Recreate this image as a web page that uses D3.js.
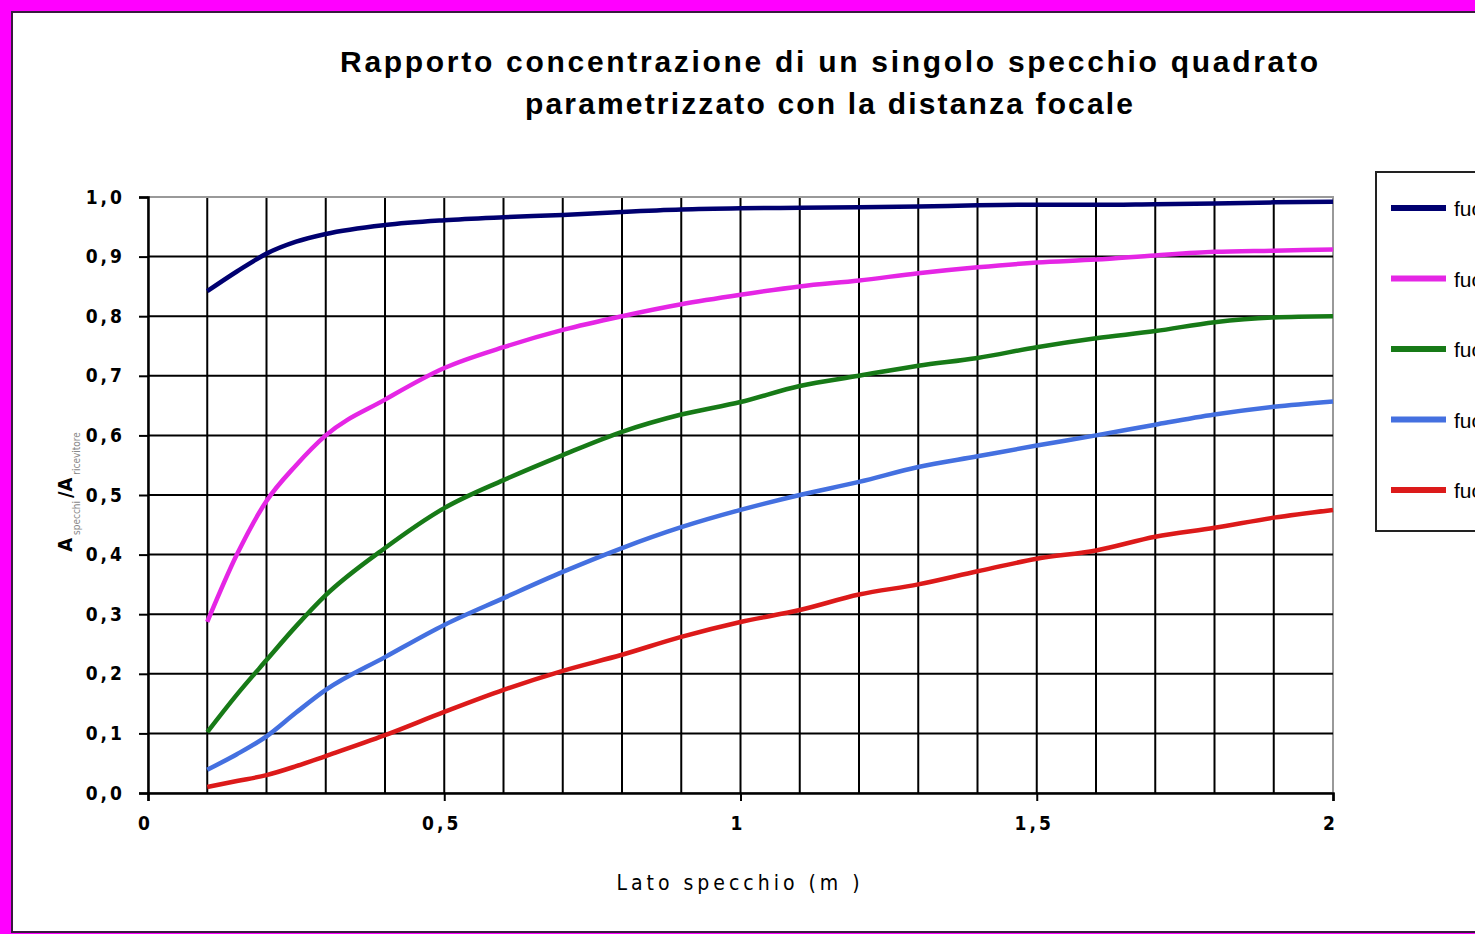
<!DOCTYPE html>
<html>
<head>
<meta charset="utf-8">
<script src="https://cdn.jsdelivr.net/npm/d3@7"></script>
<style>
  body { margin: 0; background: #ff00ff; overflow: hidden; }
  svg { display: block; }
</style>
</head>
<body>
<svg id="chart" width="1475" height="934"></svg>
<script>
// data
var lato = [0.1, 0.15, 0.2, 0.25, 0.3, 0.4, 0.5, 0.6, 0.7, 0.8, 0.9, 1.0,
            1.1, 1.2, 1.3, 1.4, 1.5, 1.6, 1.7, 1.8, 1.9, 2.0];
var serie1 = [0.842, 0.875, 0.905, 0.925, 0.938, 0.953, 0.961, 0.966, 0.970, 0.975, 0.979, 0.981,
              0.982, 0.983, 0.984, 0.986, 0.987, 0.987, 0.988, 0.989, 0.991, 0.992];
var serie2 = [0.287, 0.40, 0.49, 0.55, 0.60, 0.66, 0.713, 0.748, 0.777, 0.80, 0.82, 0.836,
              0.85, 0.86, 0.872, 0.882, 0.89, 0.895, 0.902, 0.908, 0.91, 0.912];
var serie3 = [0.102, 0.165, 0.223, 0.28, 0.332, 0.411, 0.478, 0.525, 0.567, 0.606, 0.635, 0.656,
              0.683, 0.70, 0.717, 0.73, 0.748, 0.763, 0.775, 0.79, 0.798, 0.80];
var serie4 = [0.039, 0.065, 0.095, 0.135, 0.173, 0.228, 0.282, 0.327, 0.371, 0.411, 0.446, 0.475,
              0.50, 0.522, 0.547, 0.565, 0.583, 0.60, 0.618, 0.635, 0.648, 0.657];
var serie5 = [0.01, 0.02, 0.03, 0.045, 0.062, 0.097, 0.136, 0.173, 0.205, 0.232, 0.262, 0.287,
              0.307, 0.333, 0.35, 0.372, 0.393, 0.407, 0.43, 0.445, 0.462, 0.475];
var nomi = ["fuoco 5 m", "fuoco 1 m", "fuoco 0,5 m", "fuoco 0,3 m", "fuoco 0,2 m"];
var colori = ["#000070", "#e526e5", "#177a17", "#4470e0", "#dc1a1a"];
var yTicks = [0, 0.1, 0.2, 0.3, 0.4, 0.5, 0.6, 0.7, 0.8, 0.9, 1.0];
var xTicks = [0, 0.5, 1, 1.5, 2];

var serie = [serie1, serie2, serie3, serie4, serie5];

var svg = d3.select("#chart");
var font = "'DejaVu Sans Condensed', 'Liberation Sans Narrow', Arial, sans-serif";

// white chart area with dark frame
svg.append("rect")
  .attr("x", 12).attr("y", 12)
  .attr("width", 1500).attr("height", 920)
  .attr("fill", "#ffffff")
  .attr("stroke", "#3a1a40")
  .attr("stroke-width", 2);

var margin = {left: 148, top: 197};
var width = 1185, height = 596;

var x = d3.scaleLinear().domain([0, 2]).range([0, width]);
var y = d3.scaleLinear().domain([0, 1]).range([height, 0]);

var chart = svg.append("g")
  .attr("transform", `translate(${margin.left}, ${margin.top})`);

// plot area outline (light)
chart.append("rect")
  .attr("width", width).attr("height", height)
  .attr("fill", "none")
  .attr("stroke", "#999")
  .attr("stroke-width", 2);

// grid
chart.selectAll(".vgrid")
  .data(d3.range(1, 21).map(d => d / 10))
  .enter().append("line")
  .attr("x1", d => x(d)).attr("x2", d => x(d))
  .attr("y1", 0).attr("y2", height)
  .attr("stroke", d => d === 2 ? "#999" : "#000")
  .attr("stroke-width", 2);

chart.selectAll(".hgrid")
  .data(yTicks.slice(1))
  .enter().append("line")
  .attr("x1", 0).attr("x2", width)
  .attr("y1", d => y(d)).attr("y2", d => y(d))
  .attr("stroke", d => d === 1 ? "#999" : "#000")
  .attr("stroke-width", 2);

// axes
var left = d3.axisLeft(y).tickValues(yTicks).tickSize(9).tickPadding(14)
  .tickFormat(d => d3.format(".1f")(d).replace(".", ","));
var bottom = d3.axisBottom(x).tickValues(xTicks).tickSize(8).tickPadding(16)
  .tickFormat(d => String(d).replace(".", ","));

var gy = chart.append("g").call(left);
var gx = chart.append("g").attr("transform", `translate(0, ${height})`).call(bottom);

[gx, gy].forEach(function(g) {
  g.select(".domain").attr("stroke", "#000").attr("stroke-width", 2.5);
  g.selectAll(".tick line").attr("stroke", "#000").attr("stroke-width", 2);
  g.selectAll(".tick text")
    .attr("fill", "#000")
    .style("font-family", font)
    .style("font-weight", "bold")
    .style("font-size", "19px")
    .style("letter-spacing", "3px");
});
gx.selectAll(".tick text").attr("dx", "-3px");

// lines
var line = d3.line()
  .x((d, i) => x(lato[i]))
  .y(d => y(d))
  .curve(d3.curveMonotoneX);

chart.selectAll(".serie")
  .data(serie)
  .enter().append("path")
  .attr("d", d => line(d))
  .attr("fill", "none")
  .attr("stroke", (d, i) => colori[i])
  .attr("stroke-width", 4.5)
  .attr("stroke-linejoin", "round");

// title
var title = svg.append("text")
  .attr("text-anchor", "middle")
  .style("font-family", "'Liberation Sans', Arial, sans-serif")
  .style("font-weight", "bold")
  .style("font-size", "30px");
title.append("tspan").attr("x", 829).attr("y", 72)
  .attr("textLength", 978).attr("lengthAdjust", "spacing")
  .text("Rapporto concentrazione di un singolo specchio  quadrato");
title.append("tspan").attr("x", 829).attr("y", 114)
  .attr("textLength", 608).attr("lengthAdjust", "spacing")
  .text("parametrizzato con la distanza focale");

// x axis title
svg.append("text")
  .attr("x", 740).attr("y", 890)
  .attr("text-anchor", "middle")
  .style("font-family", font)
  .style("font-size", "21px")
  .style("letter-spacing", "4px")
  .text("Lato specchio (m )");

// y axis title
var yl = svg.append("text")
  .attr("transform", "translate(72, 492) rotate(-90)")
  .attr("text-anchor", "middle")
  .style("font-family", font)
  .style("font-size", "20px")
  .style("font-weight", "bold");
yl.append("tspan").text("A");
yl.append("tspan").attr("dy", 8).style("font-size", "10px").style("font-weight", "normal")
  .attr("fill", "#888").text(" specchi ");
yl.append("tspan").attr("dy", -8).text("/A");
yl.append("tspan").attr("dy", 8).style("font-size", "10px").style("font-weight", "normal")
  .attr("fill", "#888").text(" ricevitore");

// legend (cut by the page edge, as in the original)
var legend = svg.append("g").attr("transform", "translate(1376, 172)");
legend.append("rect")
  .attr("width", 300).attr("height", 359)
  .attr("fill", "#fff")
  .attr("stroke", "#222")
  .attr("stroke-width", 2);

var item = legend.selectAll(".item")
  .data(nomi)
  .enter().append("g")
  .attr("transform", (d, i) => `translate(0, ${36 + i * 70.5})`);
item.append("line")
  .attr("x1", 15).attr("x2", 70)
  .attr("stroke", (d, i) => colori[i])
  .attr("stroke-width", 6);
item.append("text")
  .attr("x", 78).attr("y", 8)
  .style("font-family", "'Liberation Sans', Arial, sans-serif")
  .style("font-size", "21px")
  .text(d => d);
</script>
</body>
</html>
